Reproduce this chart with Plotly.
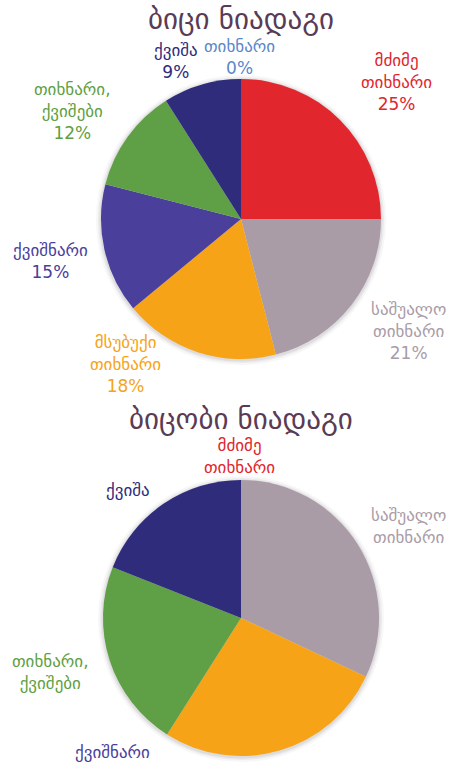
import plotly.graph_objects as go

W, H = 461, 771

# Soil texture categories (shared by both pies, in drawing order clockwise from 12 o'clock)
categories = ["მძიმე თიხნარი", "საშუალო თიხნარი", "მსუბუქი თიხნარი",
              "ქვიშნარი", "თიხნარი, ქვიშები", "ქვიშა", "თიხნარი"]
colors = ["#e1262d", "#aa9ca7", "#f6a318", "#4a409c", "#5f9f45", "#2e2c7b", "#5b87c9"]

# Shares, %
bitsi_values = [25, 21, 18, 15, 12, 9, 0]
bitsobi_values = [0, 32, 27, 0, 22, 19, 0]

titles = ["ბიცი ნიადაგი", "ბიცობი ნიადაგი"]

FONT = "DejaVu Sans"

def px_x(x):
    return x / W

def px_y(y):
    return 1 - y / H

# pie geometry (pixel centre, radius)
pies = [
    {"values": bitsi_values, "cx": 241, "cy": 219, "r": 140, "title_y": 19},
    {"values": bitsobi_values, "cx": 241, "cy": 618, "r": 138, "title_y": 419},
]

# label anchor points (pixel centre of each text block)
label_pos = [
    {0: (396, 82), 1: (408, 331), 2: (125, 364), 3: (50, 261),
     4: (72, 111), 5: (176, 61), 6: (240, 57)},
    {0: (240, 456), 1: (408, 526), 3: (112, 752), 4: (50, 672), 5: (128, 490)},
]
show_pct = [True, False]

fig = go.Figure()
annotations = []

for i, p in enumerate(pies):
    cx, cy, r = p["cx"], p["cy"], p["r"]
    # soft shadow ring behind the pie
    for grow, alpha in [(5, 0.04), (3, 0.06), (1.5, 0.08)]:
        fig.add_trace(go.Pie(
            values=[1], labels=["shadow"], sort=False,
            marker=dict(colors=[f"rgba(60,50,60,{alpha})"], line=dict(width=0)),
            textinfo="none", hoverinfo="skip", showlegend=False,
            domain=dict(x=[px_x(cx - r - grow), px_x(cx + r + grow)],
                        y=[px_y(cy + r + grow + 1), px_y(cy - r - grow + 1)]),
        ))
    fig.add_trace(go.Pie(
        labels=categories, values=p["values"], sort=False,
        direction="clockwise", rotation=0,
        marker=dict(colors=colors, line=dict(width=0)),
        textinfo="none", showlegend=False,
        domain=dict(x=[px_x(cx - r), px_x(cx + r)], y=[px_y(cy + r), px_y(cy - r)]),
    ))
    annotations.append(dict(
        text=titles[i], x=px_x(cx), y=px_y(p["title_y"]), xref="paper", yref="paper",
        xanchor="center", yanchor="middle", showarrow=False,
        font=dict(family=FONT, size=29, color="#5a3b55"),
    ))
    for idx, (lx, ly) in label_pos[i].items():
        name = categories[idx].replace(" ", "<br>")
        text = name + (f"<br>{p['values'][idx]}%" if show_pct[i] else "")
        annotations.append(dict(
            text=text, x=px_x(lx), y=px_y(ly), xref="paper", yref="paper",
            xanchor="center", yanchor="middle", showarrow=False, align="center",
            font=dict(family=FONT, size=17, color=colors[idx]),
        ))

fig.update_layout(
    width=W, height=H, margin=dict(l=0, r=0, t=0, b=0),
    paper_bgcolor="white", plot_bgcolor="white",
    annotations=annotations,
)

fig.write_html("out.html")
